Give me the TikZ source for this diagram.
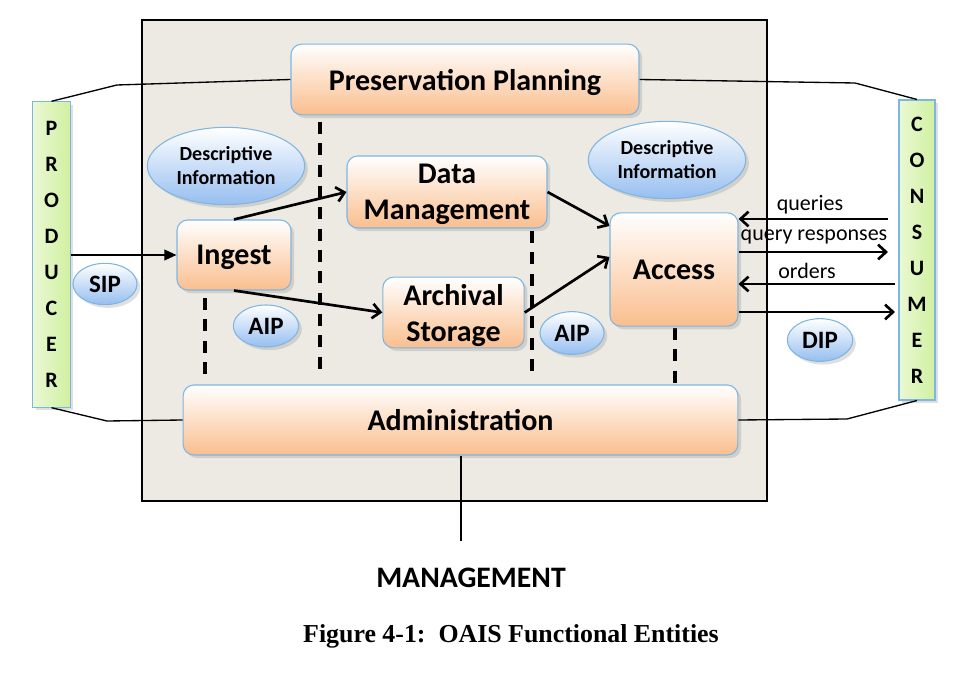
\documentclass[tikz,border=0pt]{standalone}
\usepackage{fontspec}
\setmainfont{Carlito}
\newfontfamily\capfont{Liberation Serif}
\usepackage{tikz}
\usetikzlibrary{arrows.meta,shapes.geometric,shadows,calc}

\definecolor{peach}{RGB}{250,190,142}
\definecolor{skyblue}{RGB}{150,190,240}
\definecolor{rimblue}{RGB}{125,182,226}
\definecolor{limegreen}{RGB}{208,240,160}
\definecolor{paper}{RGB}{237,234,228}

\tikzset{
  entity/.style={draw=rimblue, line width=0.8pt, rounded corners=8pt,
    top color=white, bottom color=peach, drop shadow={opacity=0.25},
    font=\bfseries\fontsize{22.5}{27}\selectfont, align=center, inner sep=0pt,
    text depth=0pt},
  infoblob/.style={ellipse, draw=rimblue, line width=0.8pt,
    top color=white, bottom color=skyblue, drop shadow={opacity=0.25},
    font=\bfseries\fontsize{18.75}{20}\selectfont, align=center, inner sep=0pt},
  party/.style={draw=rimblue, line width=0.8pt,
    left color=white!55!limegreen, right color=limegreen, drop shadow={opacity=0.25},
    font=\bfseries\fontsize{16.5}{27}\selectfont, align=center, inner sep=0pt},
  flow/.style={line width=2pt, -{Straight Barb[length=6pt,width=11pt]}},
  link/.style={line width=1pt},
  divider/.style={line width=2.3pt, dash pattern=on 9pt off 7pt},
  msg/.style={font=\fontsize{16.5}{18}\selectfont},
}

\begin{document}
\begin{tikzpicture}[x=0.75pt,y=-0.75pt]
  \useasboundingbox (0,0) rectangle (973,673);

  % 背景框
  \draw[line width=1.5pt, fill=paper] (142,20) rectangle (767,501);

  \foreach \x/\a/\b in {205/298/383, 320/122/373, 532/231/375, 675/328/383}
    \draw[divider] (\x,\a) -- (\x,\b);

  \coordinate (pbend1) at (117,85);
  \coordinate (pbend2) at (107,421);
  \coordinate (cbend1) at (855,83);
  \coordinate (cbend2) at (847,419);
  \coordinate (qry) at (888,219);
  \coordinate (rsp) at (888,252);
  \coordinate (ord) at (895,284);
  \coordinate (dlv) at (895,312);

  \node[entity, minimum width=261pt, minimum height=53pt] (plan) at (465,79.5) {Preservation Planning};
  \node[entity, minimum width=150pt, minimum height=54pt] (data) at (447,192) {Data\\Management};
  \node[entity, minimum width=85.5pt, minimum height=52.5pt] (ingest) at (234,255) {Ingest};
  \node[entity, minimum width=106pt, minimum height=53pt] (store) at (453.5,312.5) {Archival\\Storage};
  \node[entity, minimum width=96pt, minimum height=85pt] (access) at (674,269.5) {Access};
  \node[entity, minimum width=416pt, minimum height=52.5pt] (admin) at (460.5,420) {Administration};

  \node[infoblob, minimum width=118pt, minimum height=58pt, font=\bfseries\fontsize{15}{18}\selectfont] (descl) at (226,166) {Descriptive\\Information};
  \node[infoblob, minimum width=118pt, minimum height=58pt, font=\bfseries\fontsize{15}{18}\selectfont] (descr) at (667,160) {Descriptive\\Information};
  \node[infoblob, minimum width=48pt, minimum height=31pt] (sip) at (105,284) {SIP};
  \node[infoblob, minimum width=49pt, minimum height=31.5pt] (aipl) at (266,326) {AIP};
  \node[infoblob, minimum width=48pt, minimum height=32pt] (aipr) at (572,333) {AIP};
  \node[infoblob, minimum width=49pt, minimum height=32pt] (dip) at (820,340) {DIP};

  \node[party, minimum width=28pt, minimum height=229pt] (producer) at (51.5,254.5) {P\\R\\O\\D\\U\\C\\E\\R};
  \node[party, minimum width=27pt, minimum height=225pt] (consumer) at (917,250) {C\\O\\N\\S\\U\\M\\E\\R};

  \draw[link] (producer.north) -- (pbend1) -- (plan.west);
  \draw[link] (producer.south) -- (pbend2) -- (admin.west);
  \draw[link] (plan.east) -- (cbend1) -- (consumer.north);
  \draw[link] (admin.east) -- (cbend2) -- (consumer.south);
  \draw[link, -{Triangle[length=9pt,width=8pt]}] (producer.east |- ingest.west) -- (ingest.west);

  \draw[flow] (ingest.north) -- (data.west);
  \draw[flow] (ingest.south) -- (store.west);
  \draw[flow] (data.east) -- (access.146);
  \draw[flow] (store.east) -- (access.169);

  \draw[flow] (qry) -- (qry -| access.east);
  \draw[flow] (access.east |- rsp) -- (rsp);
  \draw[flow] (ord) -- (ord -| access.east);
  \draw[flow] (access.east |- dlv) -- (dlv);
  \node[msg] (qlbl) at (810,205) {queries};
  \node[msg] (rlbl) at (814,237) {query responses};
  \node[msg] (olbl) at (807,271) {orders};

  \draw[line width=1.5pt] (admin.south) -- ++(0,85);
  \node[font=\bfseries\fontsize{22.3}{26}\selectfont] (mgmt) at (471,578) {MANAGEMENT};
  \node[font=\capfont\bfseries\fontsize{19.4}{22}\selectfont] (caption) at (511,636) {Figure 4-1:\ \ OAIS Functional Entities};
\end{tikzpicture}
\end{document}
